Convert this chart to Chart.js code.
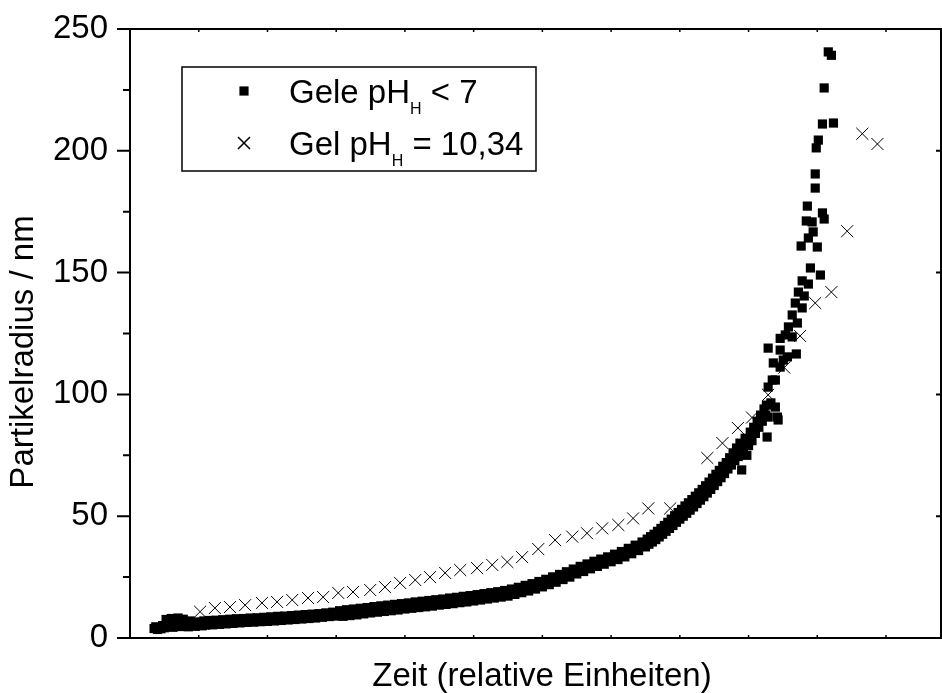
<!DOCTYPE html>
<html lang="de">
<head>
<meta charset="utf-8">
<title>Partikelradius</title>
<script src="https://cdn.jsdelivr.net/npm/chart.js@4.4.1/dist/chart.umd.min.js"></script>
<style>
  html, body { margin: 0; padding: 0; background: #fff; }
  #chart { display: block; }
</style>
</head>
<body>
<canvas id="chart" width="942" height="693"></canvas>
<script>
const FONT = "'Liberation Sans', Arial, sans-serif";

// Zeit in relativen Einheiten (20 je Teilstrich), Partikelradius in nm
const geleSauer = [
  [7, 3.9], [7.5, 4.6], [8, 3.5], [8.5, 4.3], [9, 3.8], [9.5, 5.1], [10, 4.2], [10.5, 7.6],
  [11, 4.8], [11.5, 6.3], [12, 8.0], [12.5, 4.4], [13, 7.1], [13.5, 5.5], [14, 8.2], [14.5, 4.7],
  [15, 6.6], [15.5, 7.7], [16, 5.0], [16.5, 6.1], [17, 4.6], [17.5, 7.0], [18, 5.4], [18.5, 6.3],
  [19, 4.8], [19.5, 6.6], [20, 5.5],
  [21, 5.0], [21.5, 7.0], [22, 5.3], [22.5, 6.1], [23, 7.2], [24, 5.4], [25, 7.3], [26, 5.6],
  [26.5, 6.6], [27, 7.5], [28, 5.8], [29, 7.7], [30, 6.0], [30.5, 7.0], [31, 7.9], [32, 6.2],
  [33, 8.0], [34, 6.4], [34.5, 7.4], [35, 8.2], [36, 6.5], [37, 8.3], [38, 6.7], [38.5, 7.7],
  [39, 8.5], [40, 6.8], [41, 8.7], [42, 7.0], [42.5, 8.0], [43, 8.9], [44, 7.2], [45, 9.0],
  [46, 7.4], [46.5, 8.3], [47, 9.2], [48, 7.6], [49, 9.4], [50, 7.8], [50.5, 8.7], [51, 9.6],
  [52, 8.0], [53, 9.8], [54, 8.2], [54.5, 9.1], [55, 10.0], [56, 8.5], [57, 10.3], [58, 8.8],
  [58.5, 9.7], [59, 10.6], [60, 9.0],
  [61, 11.2], [62, 8.9], [63, 11.6], [64, 9.2], [65, 11.9], [66, 9.5], [67, 12.2], [68, 9.9],
  [69, 12.5], [70, 10.3], [71, 12.9], [72, 10.6], [73, 13.2], [74, 10.9], [75, 13.5], [76, 11.2],
  [77, 13.8], [78, 11.5], [79, 14.1], [80, 11.9], [81, 14.4], [82, 12.2], [83, 14.8], [84, 12.5],
  [85, 15.1], [86, 12.8], [87, 15.4], [88, 13.1], [89, 15.7], [90, 13.5], [91, 16.0], [92, 13.8],
  [93, 16.4], [94, 14.1], [95, 16.7], [96, 14.5], [97, 17.1], [98, 14.8], [99, 17.4], [100, 15.2],
  [101, 17.8], [102, 15.6], [103, 18.2], [104, 16.0], [105, 18.6], [106, 16.4], [107, 19.0],
  [108, 16.8], [109, 19.5], [110, 17.2],
  [111, 20.1], [112, 17.9], [113, 20.8], [114, 18.6], [115, 21.6], [116, 19.3], [117, 22.3],
  [118, 20.1], [119, 23.2], [120, 21.0], [121, 24.1], [122, 21.9], [123, 25.1], [124, 22.9],
  [125, 26.1], [126, 24.0], [127, 27.2], [128, 25.0], [129, 28.3], [130, 26.3], [131, 29.4],
  [132, 27.3], [133, 30.4], [134, 28.4], [135, 31.5], [136, 29.4], [137, 32.4], [138, 30.3],
  [139, 33.3], [140, 31.3], [141, 34.4], [142, 32.2], [143, 35.5], [144, 33.3], [145, 36.8],
  [146, 34.6], [147, 38.1], [148, 35.9], [149, 39.4], [150, 37.4],
  [150.5, 40.6], [151, 38.5], [151.5, 41.6], [152, 39.4], [152.5, 42.6], [153, 40.4], [153.5, 43.8],
  [154, 41.5], [154.5, 45.0], [155, 42.6], [155.5, 46.2], [156, 43.8], [156.5, 47.5], [157, 45.0],
  [157.5, 48.8], [158, 46.2], [158.5, 50.2], [159, 47.5], [159.5, 51.5], [160, 48.8], [160.5, 52.8],
  [161, 50.0], [161.5, 54.2], [162, 51.2], [162.5, 55.5], [163, 52.5], [163.5, 56.8], [164, 53.8],
  [164.5, 58.2], [165, 55.2], [165.5, 59.6], [166, 56.6], [166.5, 61.0], [167, 58.0], [167.5, 62.5],
  [168, 59.5], [168.5, 64.0], [169, 61.0], [169.5, 65.6], [170, 62.6], [170.5, 67.2], [171, 64.2],
  [171.5, 68.8], [172, 65.8],
  [172.5, 70.5], [173, 67.5], [173.5, 72.0], [174, 69.4], [174.5, 74.0], [175, 71.0], [175.5, 76.0],
  [176, 72.8], [176.5, 78.0], [177, 74.5], [177.5, 80.0], [178, 69.0], [178.5, 76.5], [179, 82.0],
  [179.5, 75.0], [180, 79.0], [180.5, 84.5], [181, 81.0], [181.5, 86.5], [182, 84.0], [182.5, 89.0],
  [183, 86.5], [183.5, 91.5], [184, 89.0], [184.5, 94.0], [185, 91.5], [185.2, 95.6], [185.4, 82.5],
  [185.7, 103.0], [185.7, 90.7], [185.7, 119.0], [186.5, 96.5], [186.9, 105.9], [187.2, 112.9],
  [187.8, 105.9], [187.8, 94.8], [188.4, 90.7], [188.6, 89.5], [189.2, 123.0], [189.2, 118.2],
  [189.2, 111.2], [190.1, 114.1], [190.7, 124.4], [191.3, 115.4], [191.6, 127.7], [192.7, 132.6],
  [192.7, 123.6], [193.6, 137.5], [193.9, 116.6], [194.2, 129.3], [194.5, 142.0], [195.3, 160.9],
  [195.6, 146.6], [195.6, 135.5], [196.2, 140.4], [196.8, 171.2], [197.1, 177.3], [197.4, 164.2],
  [197.4, 145.3], [198.0, 151.9], [198.5, 170.8], [198.8, 166.7], [199.4, 190.5], [199.4, 184.7],
  [199.7, 201.2], [200.0, 160.5], [200.3, 204.4], [200.9, 149.0], [201.5, 211.0], [201.5, 174.5],
  [202.0, 225.8], [202.0, 172.0], [203.2, 240.6], [204.1, 239.2], [204.7, 211.4],
];

const gelBasisch = [
  [20.4, 10.8], [24.7, 12.3], [29.1, 12.7], [33.5, 13.5], [38.4, 14.4], [42.8, 14.8],
  [47.2, 15.6], [51.8, 16.4], [56.2, 16.8], [60.6, 18.5], [64.9, 18.9], [69.9, 19.7],
  [74.2, 20.9], [78.6, 22.6], [83.0, 23.8], [87.3, 25.0], [91.7, 26.7], [96.1, 27.9],
  [101.0, 28.7], [105.4, 30.0], [109.8, 31.2], [114.1, 33.2], [118.8, 36.5], [123.7, 40.2],
  [128.7, 41.6], [133.0, 43.0], [137.4, 45.0], [142.1, 46.4], [146.4, 49.1], [150.8, 53.2],
  [157.2, 53.2], [168.0, 73.9], [172.4, 80.0], [176.9, 86.2], [181.0, 90.5], [185.7, 99.8],
  [190.4, 111.0], [195.0, 124.0], [199.4, 137.5], [204.1, 142.0], [208.7, 167.0],
  [213.1, 207.0], [217.5, 202.8],
];

const radiusTicks = [0, 50, 100, 150, 200, 250];
const radiusMinorTicks = [25, 75, 125, 175, 225];
const zeitTicks = [20, 40, 60, 80, 100, 120, 140, 160, 180, 200, 220];

const legendItems = [
  { pointStyle: 'rect', radius: 6.5, borderWidth: 0, text: 'Gele pH', sub: 'H', rest: ' < 7' },
  { pointStyle: 'crossRot', radius: 8.5, borderWidth: 1, text: 'Gel pH', sub: 'H', rest: ' = 10,34' },
];

const toPoints = (pairs) => pairs.map(([x, y]) => ({ x, y }));

const framePlugin = {
  id: 'frame',
  afterDatasetsDraw(chart) {
    const { ctx, chartArea: a, scales: { x, y } } = chart;
    ctx.save();
    ctx.strokeStyle = '#000';
    ctx.lineWidth = 2;
    ctx.strokeRect(a.left, a.top, a.right - a.left, a.bottom - a.top);
    ctx.beginPath();
    radiusTicks.forEach((v) => {
      const py = y.getPixelForValue(v);
      ctx.moveTo(a.left - 13, py);
      ctx.lineTo(a.left, py);
      if (v > 0 && v < 250) {
        ctx.moveTo(a.right - 5, py);
        ctx.lineTo(a.right, py);
      }
    });
    radiusMinorTicks.forEach((v) => {
      const py = y.getPixelForValue(v);
      ctx.moveTo(a.left - 7, py);
      ctx.lineTo(a.left, py);
    });
    ctx.stroke();
    ctx.lineWidth = 1.5;
    ctx.beginPath();
    zeitTicks.forEach((v) => {
      const px = x.getPixelForValue(v);
      ctx.moveTo(px, a.top);
      ctx.lineTo(px, a.top + 3);
      ctx.moveTo(px, a.bottom);
      ctx.lineTo(px, a.bottom - 3);
    });
    ctx.stroke();
    ctx.restore();
  },
};

const titlePlugin = {
  id: 'titles',
  afterDraw(chart) {
    const { ctx } = chart;
    ctx.save();
    ctx.fillStyle = '#000';
    ctx.font = `33px ${FONT}`;
    ctx.textAlign = 'center';
    ctx.textBaseline = 'alphabetic';
    ctx.fillText('Zeit (relative Einheiten)', 542, 686);
    ctx.translate(33, 352);
    ctx.rotate(-Math.PI / 2);
    ctx.fillText('Partikelradius / nm', 0, 0);
    ctx.restore();
  },
};

const legendPlugin = {
  id: 'boxLegend',
  afterDraw(chart) {
    const { ctx } = chart;
    ctx.save();
    ctx.strokeStyle = '#000';
    ctx.lineWidth = 1.5;
    ctx.strokeRect(182, 67, 354, 104);
    legendItems.forEach((item, i) => {
      const baseline = 103 + i * 52;
      ctx.fillStyle = '#000';
      ctx.strokeStyle = '#000';
      Chart.helpers.drawPoint(ctx, {
        pointStyle: item.pointStyle,
        radius: item.radius,
        rotation: 0,
        borderWidth: item.borderWidth,
      }, 244, baseline - 12);
      ctx.textAlign = 'left';
      ctx.textBaseline = 'alphabetic';
      ctx.font = `33px ${FONT}`;
      let cx = 289;
      ctx.fillText(item.text, cx, baseline);
      cx += ctx.measureText(item.text).width;
      ctx.font = `16px ${FONT}`;
      ctx.fillText(item.sub, cx, baseline + 11);
      cx += ctx.measureText(item.sub).width;
      ctx.font = `33px ${FONT}`;
      ctx.fillText(item.rest, cx, baseline);
    });
    ctx.restore();
  },
};

Chart.defaults.font.family = FONT;
Chart.defaults.color = '#000';

new Chart(document.getElementById('chart'), {
  type: 'scatter',
  data: {
    datasets: [
      {
        label: 'Gele pH_H < 7',
        data: toPoints(geleSauer),
        pointStyle: 'rect',
        pointRadius: 6.5,
        pointBorderWidth: 0,
        pointBackgroundColor: '#000',
        pointBorderColor: '#000',
        order: 2,
      },
      {
        label: 'Gel pH_H = 10,34',
        data: toPoints(gelBasisch),
        pointStyle: 'crossRot',
        pointRadius: 8.5,
        pointBorderWidth: 1,
        pointBorderColor: '#000',
        pointBackgroundColor: '#000',
        order: 1,
      },
    ],
  },
  options: {
    responsive: false,
    animation: false,
    devicePixelRatio: 1,
    layout: { autoPadding: false, padding: { top: 29, right: 1, left: 0, bottom: 0 } },
    plugins: {
      legend: { display: false },
      tooltip: { enabled: false },
    },
    scales: {
      x: {
        type: 'linear',
        min: 0,
        max: 236,
        grid: { display: false, drawTicks: false },
        border: { display: false },
        ticks: { display: false },
        afterFit(scale) {
          scale.height = 55;
          scale.paddingLeft = 0;
          scale.paddingRight = 0;
        },
      },
      y: {
        type: 'linear',
        min: 0,
        max: 250,
        grid: { display: false, drawTicks: false },
        border: { display: false },
        ticks: { font: { size: 33 }, color: '#000', padding: 22 },
        afterBuildTicks(scale) { scale.ticks = radiusTicks.map((value) => ({ value })); },
        afterFit(scale) {
          scale.width = 130;
          scale.paddingTop = 0;
          scale.paddingBottom = 0;
        },
      },
    },
  },
  plugins: [framePlugin, titlePlugin, legendPlugin],
});
</script>
</body>
</html>
